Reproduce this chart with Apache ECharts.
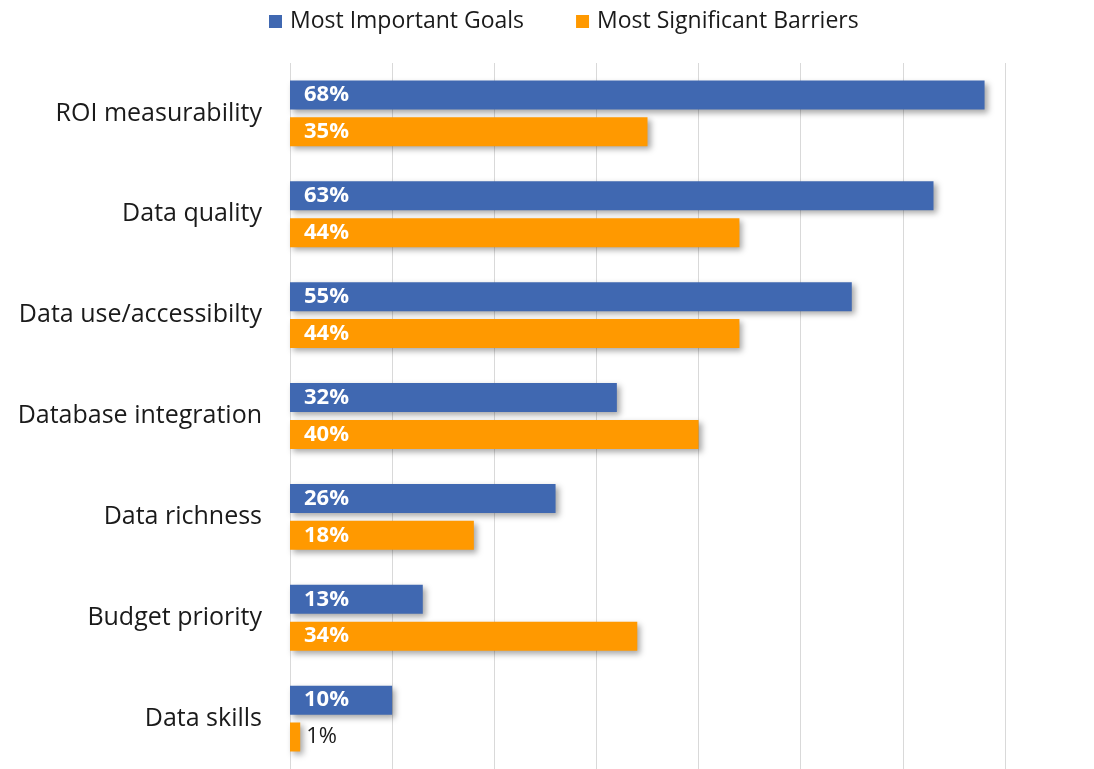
<!DOCTYPE html>
<html>
<head>
<meta charset="utf-8">
<script src="https://cdn.jsdelivr.net/npm/echarts@6/dist/echarts.min.js"></script>
<style>
  html, body { margin: 0; padding: 0; background: #fff; }
  #chart { width: 1094px; height: 769px; }
</style>
</head>
<body>
<div id="chart"></div>
<script>
const categories = ['ROI measurability', 'Data quality', 'Data use/accessibilty', 'Database integration', 'Data richness', 'Budget priority', 'Data skills'];
const goals = [68, 63, 55, 32, 26, 13, 10];
const barriers = [35, 44, 44, 40, 18, 34, 1];
const seriesNames = ['Most Important Goals', 'Most Significant Barriers'];

const FONT = '"Open Sans", "Noto Sans", sans-serif';
const BLUE = '#4068B1';
const ORANGE = '#FF9900';

const shadow = {
  shadowColor: 'rgba(0,0,0,0.35)',
  shadowBlur: 6,
  shadowOffsetX: 3,
  shadowOffsetY: 3
};

// Small bars can't hold a white label inside, so their label sits to the right in dark text
function toItems(values) {
  return values.map(v => v < 5
    ? { value: v, label: { position: 'right', distance: 6, color: '#1a1a1a', fontWeight: 'normal' } }
    : v);
}

const barLabel = {
  show: true, position: 'insideLeft', distance: 14,
  formatter: '{c}%', color: '#fff', fontWeight: 'bold', fontSize: 22, fontFamily: FONT
};

const chart = echarts.init(document.getElementById('chart'));
chart.setOption({
  animation: false,
  textStyle: { fontFamily: FONT },
  legend: {
    top: 5,
    left: 264,
    itemWidth: 13,
    itemHeight: 13,
    itemGap: 52,
    icon: 'rect',
    textStyle: { fontSize: 23, color: '#1a1a1a', fontFamily: FONT, padding: [0, 0, 0, 3] },
    data: seriesNames
  },
  grid: { left: 290, right: 89, top: 63, height: 708 },
  xAxis: {
    type: 'value',
    min: 0,
    max: 70,
    interval: 10,
    axisLabel: { show: false },
    axisLine: { show: false },
    axisTick: { show: false },
    splitLine: { lineStyle: { color: '#d9d9d9', width: 1 } }
  },
  yAxis: {
    type: 'category',
    inverse: true,
    data: categories,
    axisLine: { show: false },
    axisTick: { show: false },
    axisLabel: { fontSize: 25, color: '#1a1a1a', margin: 28, fontFamily: FONT, padding: [4, 0, 0, 0] }
  },
  series: [
    {
      name: seriesNames[0],
      type: 'bar',
      data: toItems(goals),
      barWidth: 29,
      barGap: '27%',
      itemStyle: Object.assign({ color: BLUE }, shadow),
      label: barLabel
    },
    {
      name: seriesNames[1],
      type: 'bar',
      data: toItems(barriers),
      barWidth: 29,
      barGap: '27%',
      itemStyle: Object.assign({ color: ORANGE }, shadow),
      label: barLabel
    }
  ]
});
</script>
</body>
</html>
